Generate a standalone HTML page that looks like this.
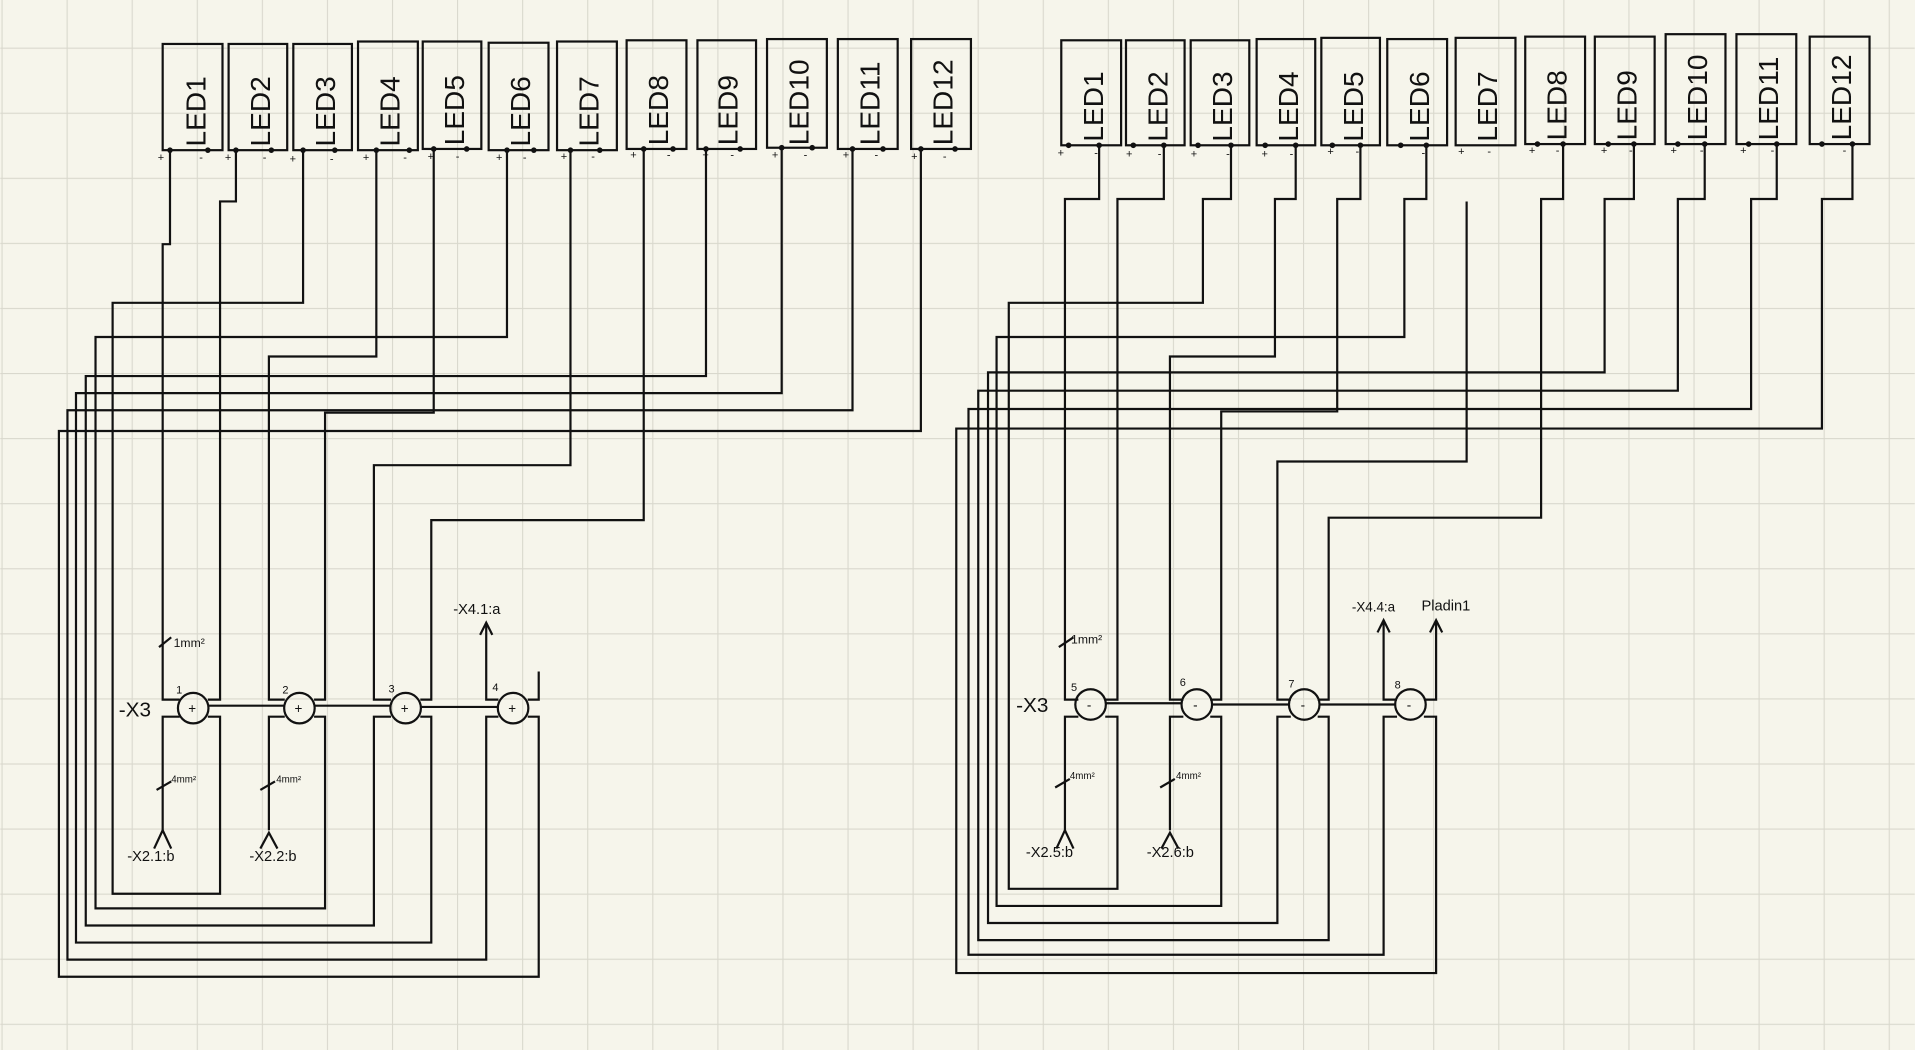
<!DOCTYPE html>
<html><head><meta charset="utf-8"><style>
html,body{margin:0;padding:0;background:#f6f5eb;}
svg{display:block}
text{font-family:"Liberation Sans",sans-serif;fill:#111}
</style></head><body>
<svg width="1915" height="1050" viewBox="0 0 1568 860" xmlns="http://www.w3.org/2000/svg">
<defs>
<pattern id="g" width="53.3" height="53.3" patternUnits="userSpaceOnUse" x="1" y="39">
<path d="M0 0H53.3M0 0V53.3" stroke="#d9d8cd" stroke-width="1.8" fill="none"/>
</pattern>
</defs>
<rect width="1568" height="860" fill="#f6f5eb"/>
<rect width="1568" height="860" fill="url(#g)"/>
<g stroke="#111" stroke-width="1.8" fill="none">
<rect x="133" y="36" width="49" height="87"/><rect x="187" y="36" width="48" height="87"/>
<rect x="240" y="36" width="48" height="87"/><rect x="293" y="34" width="49" height="89"/>
<rect x="346" y="34" width="48" height="88"/><rect x="400" y="35" width="49" height="88"/>
<rect x="456" y="34" width="49" height="89"/><rect x="513" y="33" width="49" height="89"/>
<rect x="571" y="33" width="48" height="89"/><rect x="628" y="32" width="49" height="89"/>
<rect x="686" y="32" width="49" height="90"/><rect x="746" y="32" width="49" height="90"/>
<rect x="869" y="33" width="49" height="86"/><rect x="922" y="33" width="48" height="86"/>
<rect x="975" y="33" width="48" height="86"/><rect x="1029" y="32" width="48" height="87"/>
<rect x="1082" y="31" width="48" height="88"/><rect x="1136" y="32" width="49" height="87"/>
<rect x="1192" y="31" width="49" height="88"/><rect x="1249" y="30" width="49" height="88"/>
<rect x="1306" y="30" width="49" height="88"/><rect x="1364" y="28" width="49" height="90"/>
<rect x="1422" y="28" width="49" height="90"/><rect x="1482" y="30" width="49" height="88"/>

<polyline points="139,123 139,200 133,200 133,573 147,573"/>
<polyline points="193,123 193,165 180,165 180,573 170,573"/>
<polyline points="248,123 248,248 92,248 92,732 180,732 180,587 170,587"/>
<polyline points="308,123 308,292 220,292 220,573 233,573"/>
<polyline points="355,123 355,338 266,338 266,573 257,573"/>
<polyline points="415,123 415,276 78,276 78,744 266,744 266,587 257,587"/>
<polyline points="467,123 467,381 306,381 306,573 320,573"/>
<polyline points="527,123 527,426 353,426 353,573 344,573"/>
<polyline points="578,123 578,308 70,308 70,758 306,758 306,587 320,587"/>
<polyline points="640,123 640,322 62,322 62,772 353,772 353,587 344,587"/>
<polyline points="698,123 698,336 55,336 55,786 398,786 398,587 408,587"/>
<polyline points="754,123 754,353 48,353 48,800 441,800 441,587 432,587"/>
<polyline points="133,680 133,587 147,587"/>
<polyline points="220,680 220,587 233,587"/>
<polyline points="398,512 398,573 408,573"/>
<polyline points="441,550 441,573 432,573"/>
<line x1="171" y1="578" x2="232" y2="578"/><line x1="258" y1="578" x2="319" y2="578"/><line x1="345" y1="579" x2="407" y2="579"/>
<circle cx="158" cy="580" r="12.5"/><circle cx="245" cy="580" r="12.5"/><circle cx="332" cy="580" r="12.5"/><circle cx="420" cy="580" r="12.5"/>
<polyline points="126,695 133,680 140,695"/><polyline points="213,695 220,682 227,695"/><polyline points="393,520 398,510 403,520"/>
<line x1="130" y1="530" x2="140" y2="522"/><line x1="128" y1="647" x2="140" y2="640"/><line x1="213" y1="647" x2="225" y2="640"/>

<polyline points="900,118 900,163 872,163 872,573 883,573"/>
<polyline points="953,118 953,163 915,163 915,573 905,573"/>
<polyline points="1008,118 1008,163 985,163 985,248 826,248 826,728 915,728 915,587 905,587"/>
<polyline points="1061,118 1061,163 1044,163 1044,292 958,292 958,573 969,573"/>
<polyline points="1114,118 1114,163 1095,163 1095,337 1000,337 1000,573 991,573"/>
<polyline points="1168,118 1168,163 1150,163 1150,276 816,276 816,742 1000,742 1000,587 991,587"/>
<polyline points="1201,165 1201,378 1046,378 1046,573 1057,573"/>
<polyline points="1280,118 1280,163 1262,163 1262,424 1088,424 1088,573 1079,573"/>
<polyline points="1338,118 1338,163 1314,163 1314,305 809,305 809,756 1046,756 1046,587 1057,587"/>
<polyline points="1396,118 1396,163 1374,163 1374,320 801,320 801,770 1088,770 1088,587 1079,587"/>
<polyline points="1455,118 1455,163 1434,163 1434,335 793,335 793,782 1133,782 1133,587 1144,587"/>
<polyline points="1517,118 1517,163 1492,163 1492,351 783,351 783,797 1176,797 1176,587 1166,587"/>
<polyline points="872,680 872,587 883,587"/>
<polyline points="958,680 958,587 969,587"/>
<polyline points="1133,510 1133,573 1144,573"/>
<polyline points="1176,510 1176,573 1166,573"/>
<line x1="906" y1="576" x2="968" y2="576"/><line x1="992" y1="577" x2="1056" y2="577"/><line x1="1080" y1="577" x2="1143" y2="577"/>
<circle cx="893" cy="577" r="12.5"/><circle cx="980" cy="577" r="12.5"/><circle cx="1068" cy="577" r="12.5"/><circle cx="1155" cy="577" r="12.5"/>
<polyline points="865,695 872,680 879,695"/><polyline points="951,695 958,682 965,695"/>
<polyline points="1128,518 1133,508 1138,518"/><polyline points="1171,518 1176,508 1181,518"/>
<line x1="867" y1="530" x2="879" y2="522"/><line x1="864" y1="645" x2="876" y2="638"/><line x1="950" y1="645" x2="962" y2="638"/>
</g>
<g fill="#111">
<circle cx="139" cy="123" r="2.3"/><circle cx="170" cy="123" r="2.3"/><circle cx="193" cy="123" r="2.3"/><circle cx="222" cy="123" r="2.3"/>
<circle cx="248" cy="123" r="2.3"/><circle cx="274" cy="123" r="2.3"/><circle cx="308" cy="123" r="2.3"/><circle cx="335" cy="123" r="2.3"/>
<circle cx="355" cy="122" r="2.3"/><circle cx="382" cy="122" r="2.3"/><circle cx="415" cy="123" r="2.3"/><circle cx="437" cy="123" r="2.3"/>
<circle cx="467" cy="123" r="2.3"/><circle cx="491" cy="123" r="2.3"/><circle cx="527" cy="122" r="2.3"/><circle cx="551" cy="122" r="2.3"/>
<circle cx="578" cy="122" r="2.3"/><circle cx="606" cy="122" r="2.3"/><circle cx="640" cy="121" r="2.3"/><circle cx="665" cy="121" r="2.3"/>
<circle cx="698" cy="122" r="2.3"/><circle cx="723" cy="122" r="2.3"/><circle cx="754" cy="122" r="2.3"/><circle cx="782" cy="122" r="2.3"/>
<circle cx="875" cy="119" r="2.3"/><circle cx="900" cy="119" r="2.3"/><circle cx="928" cy="119" r="2.3"/><circle cx="953" cy="119" r="2.3"/>
<circle cx="981" cy="119" r="2.3"/><circle cx="1008" cy="119" r="2.3"/><circle cx="1036" cy="119" r="2.3"/><circle cx="1061" cy="119" r="2.3"/>
<circle cx="1091" cy="119" r="2.3"/><circle cx="1114" cy="119" r="2.3"/><circle cx="1147" cy="119" r="2.3"/><circle cx="1168" cy="119" r="2.3"/>
<circle cx="1259" cy="118" r="2.3"/><circle cx="1280" cy="118" r="2.3"/><circle cx="1317" cy="118" r="2.3"/><circle cx="1338" cy="118" r="2.3"/>
<circle cx="1374" cy="118" r="2.3"/><circle cx="1396" cy="118" r="2.3"/><circle cx="1432" cy="118" r="2.3"/><circle cx="1455" cy="118" r="2.3"/>
<circle cx="1492" cy="118" r="2.3"/><circle cx="1517" cy="118" r="2.3"/>
</g>
<g font-size="23">
<text transform="translate(168,120) rotate(-90)">LED1</text><text transform="translate(221,120) rotate(-90)">LED2</text>
<text transform="translate(274,120) rotate(-90)">LED3</text><text transform="translate(327,120) rotate(-90)">LED4</text>
<text transform="translate(380,119) rotate(-90)">LED5</text><text transform="translate(434,120) rotate(-90)">LED6</text>
<text transform="translate(490,120) rotate(-90)">LED7</text><text transform="translate(547,119) rotate(-90)">LED8</text>
<text transform="translate(604,119) rotate(-90)">LED9</text><text transform="translate(662,119) rotate(-90)">LED10</text>
<text transform="translate(720,119) rotate(-90)">LED11</text><text transform="translate(780,119) rotate(-90)">LED12</text>
<text transform="translate(903,116) rotate(-90)">LED1</text><text transform="translate(956,116) rotate(-90)">LED2</text>
<text transform="translate(1009,116) rotate(-90)">LED3</text><text transform="translate(1063,116) rotate(-90)">LED4</text>
<text transform="translate(1116,116) rotate(-90)">LED5</text><text transform="translate(1170,116) rotate(-90)">LED6</text>
<text transform="translate(1226,116) rotate(-90)">LED7</text><text transform="translate(1283,115) rotate(-90)">LED8</text>
<text transform="translate(1340,115) rotate(-90)">LED9</text><text transform="translate(1398,115) rotate(-90)">LED10</text>
<text transform="translate(1456,115) rotate(-90)">LED11</text><text transform="translate(1516,115) rotate(-90)">LED12</text>
</g>
<g font-size="9">
<text x="129" y="132">+</text><text x="163" y="132">-</text><text x="184" y="132">+</text><text x="215" y="132">-</text>
<text x="237" y="133">+</text><text x="270" y="133">-</text><text x="297" y="132">+</text><text x="330" y="132">-</text>
<text x="350" y="131">+</text><text x="373" y="131">-</text><text x="406" y="132">+</text><text x="428" y="132">-</text>
<text x="459" y="131">+</text><text x="484" y="131">-</text><text x="516" y="130">+</text><text x="546" y="130">-</text>
<text x="575" y="130">+</text><text x="598" y="130">-</text><text x="632" y="130">+</text><text x="658" y="130">-</text>
<text x="690" y="130">+</text><text x="716" y="130">-</text><text x="746" y="131">+</text><text x="772" y="131">-</text>
<text x="866" y="128">+</text><text x="896" y="128">-</text><text x="922" y="129">+</text><text x="948" y="129">-</text>
<text x="975" y="129">+</text><text x="1004" y="129">-</text><text x="1033" y="129">+</text><text x="1056" y="129">-</text>
<text x="1087" y="127">+</text><text x="1110" y="127">-</text><text x="1164" y="128">-</text>
<text x="1194" y="127">+</text><text x="1218" y="127">-</text><text x="1252" y="126">+</text><text x="1274" y="126">-</text>
<text x="1311" y="126">+</text><text x="1334" y="126">-</text><text x="1368" y="126">+</text><text x="1392" y="126">-</text>
<text x="1425" y="126">+</text><text x="1450" y="126">-</text><text x="1509" y="126">-</text>
</g>
<g font-size="11">
<text x="154" y="584">+</text><text x="241" y="584">+</text><text x="328" y="584">+</text><text x="416" y="584">+</text>
<text x="890" y="581">-</text><text x="977" y="581">-</text><text x="1065" y="581">-</text><text x="1152" y="581">-</text>
<text x="144" y="568" font-size="9">1</text><text x="231" y="568" font-size="9">2</text><text x="318" y="567" font-size="9">3</text><text x="403" y="566" font-size="9">4</text>
<text x="877" y="566" font-size="9">5</text><text x="966" y="562" font-size="9">6</text><text x="1055" y="563" font-size="9">7</text><text x="1142" y="564" font-size="9">8</text>
</g>
<g font-size="17">
<text x="97" y="587">-X3</text><text x="832" y="583">-X3</text>
</g>
<g font-size="12">
<text x="371" y="503">-X4.1:a</text>
<text x="104" y="705">-X2.1:b</text><text x="204" y="705">-X2.2:b</text>
<text x="840" y="702">-X2.5:b</text><text x="939" y="702">-X2.6:b</text>
<text x="1107" y="501" font-size="11">-X4.4:a</text><text x="1164" y="500">Pladin1</text>
<text x="142" y="530" font-size="10">1mm²</text><text x="877" y="527" font-size="10">1mm²</text>
</g>
<g font-size="8">
<text x="140" y="641">4mm²</text><text x="226" y="641">4mm²</text>
<text x="876" y="638">4mm²</text><text x="963" y="638">4mm²</text>
</g>
</svg>
</body></html>
